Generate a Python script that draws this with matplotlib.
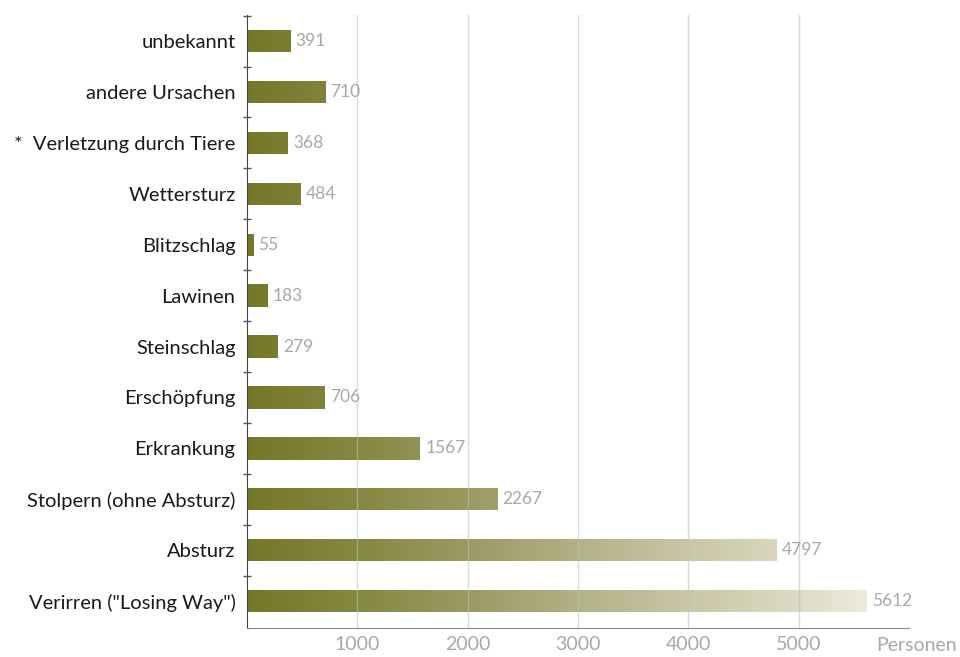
import numpy as np
import matplotlib
matplotlib.use("Agg")
import matplotlib.pyplot as plt
from matplotlib.colors import LinearSegmentedColormap
from matplotlib.ticker import FixedLocator

# data, top to bottom as in the reference
categories = ["unbekannt", "andere Ursachen", "*  Verletzung durch Tiere", "Wettersturz",
              "Blitzschlag", "Lawinen", "Steinschlag", "Erschöpfung", "Erkrankung",
              "Stolpern (ohne Absturz)", "Absturz", 'Verirren ("Losing Way")']
values = [391, 710, 368, 484, 55, 183, 279, 706, 1567, 2267, 4797, 5612]
xticks = [1000, 2000, 3000, 4000, 5000]

plt.rcParams['font.family'] = ['Lato', 'DejaVu Sans']

# olive -> cream gradient along the value axis
xmax = 6000
grad = LinearSegmentedColormap.from_list("olive", [
    (0.0, "#757728"), (1000 / xmax, "#858840"), (2000 / xmax, "#9a9a62"),
    (3000 / xmax, "#b3b187"), (4000 / xmax, "#c9c7a6"), (4800 / xmax, "#d9d6bd"),
    (5612 / xmax, "#ecebdd"), (1.0, "#f3f2e8")])

fig = plt.figure(figsize=(9.6, 6.57), dpi=100)
ax = fig.add_axes([0.257, 0.044, 0.69, 0.933])

y = np.arange(len(categories))[::-1]
bars = ax.barh(y, values, height=0.44, color="none", edgecolor="none")

g = np.linspace(0, 1, 512).reshape(1, -1)
for b in bars:
    y0 = b.get_y()
    im = ax.imshow(g, cmap=grad, extent=(0, xmax, y0, y0 + b.get_height()),
                   aspect="auto", origin="lower", zorder=2)
    im.set_clip_path(b)

for yi, v in zip(y, values):
    ax.text(v + 50, yi, str(v), va="center", ha="left", fontsize=12.5, color="#a8a8a8")

ax.set_xlim(0, xmax)
ax.set_ylim(-0.53, len(categories) - 0.49)

ax.set_yticks(y)
ax.set_yticklabels(categories, fontsize=14.5, color="#1a1a1a")
ax.tick_params(axis="y", which="major", length=0, pad=8)
ax.yaxis.set_minor_locator(FixedLocator(np.arange(len(categories)) + 0.5))
ax.tick_params(axis="y", which="minor", direction="inout", length=6, color="#555555", width=1)

ax.set_xticks(xticks)
ax.set_xticklabels([str(t) for t in xticks], fontsize=14, color="#a8a8a8")
ax.tick_params(axis="x", length=0, pad=6)
# grid shows faintly through the bars in the original
ax.grid(axis="x", color="#c0c0c0", linewidth=1, alpha=0.6, zorder=3)
ax.set_axisbelow(False)

for s in ["top", "right"]:
    ax.spines[s].set_visible(False)
ax.spines["left"].set_color("#444444")
ax.spines["bottom"].set_color("#888888")

fig.text(0.997, 0.018, "Personen", ha="right", va="center", fontsize=14, color="#a8a8a8")

fig.savefig("out.png", dpi=100, facecolor="white")
